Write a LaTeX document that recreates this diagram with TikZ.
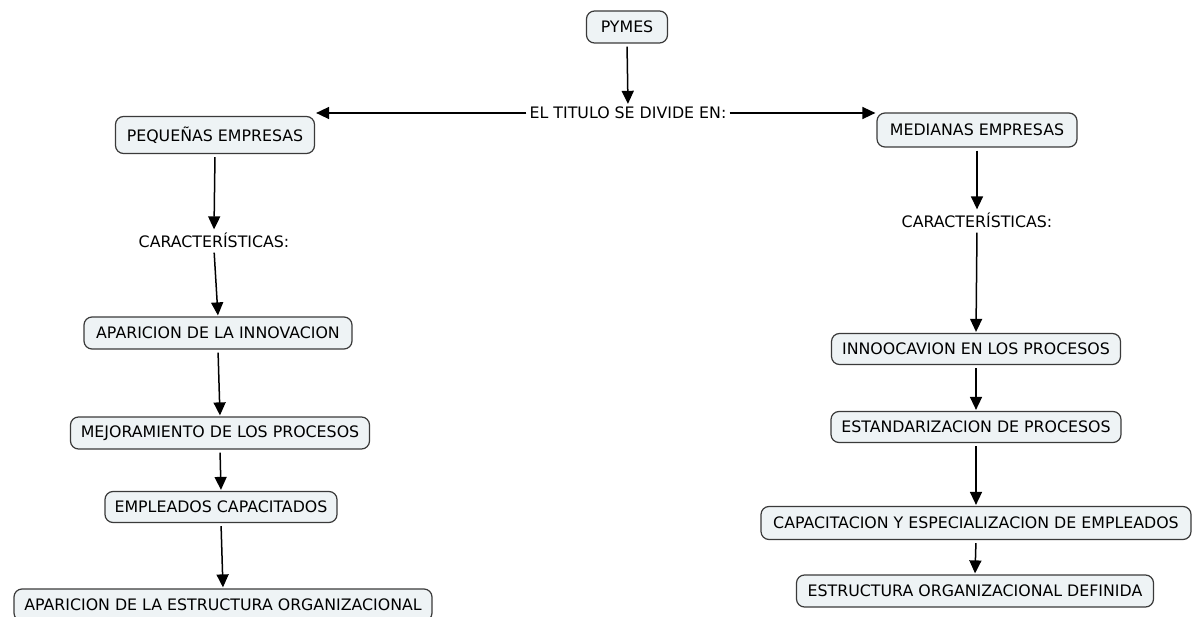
\documentclass[tikz,border=0pt]{standalone}
\usepackage{fontspec}
\setmainfont{DejaVu Sans}
\usetikzlibrary{arrows.meta}
\definecolor{boxfill}{HTML}{EEF3F5}
\definecolor{boxline}{HTML}{3A3A3A}
\begin{document}
\begin{tikzpicture}[x=1pt,y=-1pt,
  concept/.style={draw=boxline,line width=1.2pt,fill=boxfill,rounded corners=8pt,
    inner sep=0pt,font=\fontsize{15.8}{18}\selectfont},
  label/.style={inner sep=2pt,font=\fontsize{15.8}{18}\selectfont},
  link/.style={line width=1.5pt,-{Triangle[length=13pt,width=12pt]},shorten <=3pt,shorten >=1pt}]
\useasboundingbox (0,0) rectangle (1194,617);

% root and title phrase
\node[concept,minimum width=81pt,minimum height=32pt] (pymes) at (627,27) {PYMES};
\node[label] (title) at (628,113) {EL TITULO SE DIVIDE EN:};

% left branch
\node[concept,minimum width=199pt,minimum height=37pt] (peq) at (215,135) {PEQUEÑAS EMPRESAS};
\node[label] (car1) at (214,240) {CARACTERÍSTICAS:};
\node[concept,minimum width=268pt,minimum height=32pt] (apin) at (218,333) {APARICION DE LA INNOVACION};
\node[concept,minimum width=299pt,minimum height=32pt] (mej) at (220,433) {MEJORAMIENTO DE LOS PROCESOS};
\node[concept,minimum width=232pt,minimum height=31pt] (emp) at (221,507) {EMPLEADOS CAPACITADOS};
\node[concept,minimum width=418pt,minimum height=32pt] (apest) at (223,605) {APARICION DE LA ESTRUCTURA ORGANIZACIONAL};

% right branch
\node[concept,minimum width=200pt,minimum height=34pt] (med) at (977,130) {MEDIANAS EMPRESAS};
\node[label] (car2) at (977,220) {CARACTERÍSTICAS:};
\node[concept,minimum width=289pt,minimum height=31pt] (inno) at (976,349) {INNOOCAVION EN LOS PROCESOS};
\node[concept,minimum width=290pt,minimum height=31pt] (est) at (976,427) {ESTANDARIZACION DE PROCESOS};
\node[concept,minimum width=430pt,minimum height=33pt] (cap) at (976,523) {CAPACITACION Y ESPECIALIZACION DE EMPLEADOS};
\node[concept,minimum width=357pt,minimum height=32pt] (estr) at (975,591) {ESTRUCTURA ORGANIZACIONAL DEFINIDA};

% connectors
\draw[link] (pymes.south) -- (title.north);
\draw[link,shorten <=1pt] (title.west) -- (title.west -| peq.east);
\draw[link,shorten <=1pt] (title.east) -- (title.east -| med.west);

\draw[link] (peq.south) -- (car1.north);
\draw[link] (car1.south) -- (apin.north);
\draw[link] (apin.south) -- (mej.north);
\draw[link] (mej.south) -- (emp.north);
\draw[link] (emp.south) -- (apest.north);

\draw[link] (med.south) -- (car2.north);
\draw[link] (car2.south) -- (inno.north);
\draw[link] (inno.south) -- (est.north);
\draw[link] (est.south) -- (cap.north);
\draw[link] (cap.south) -- (estr.north);
\end{tikzpicture}
\end{document}
